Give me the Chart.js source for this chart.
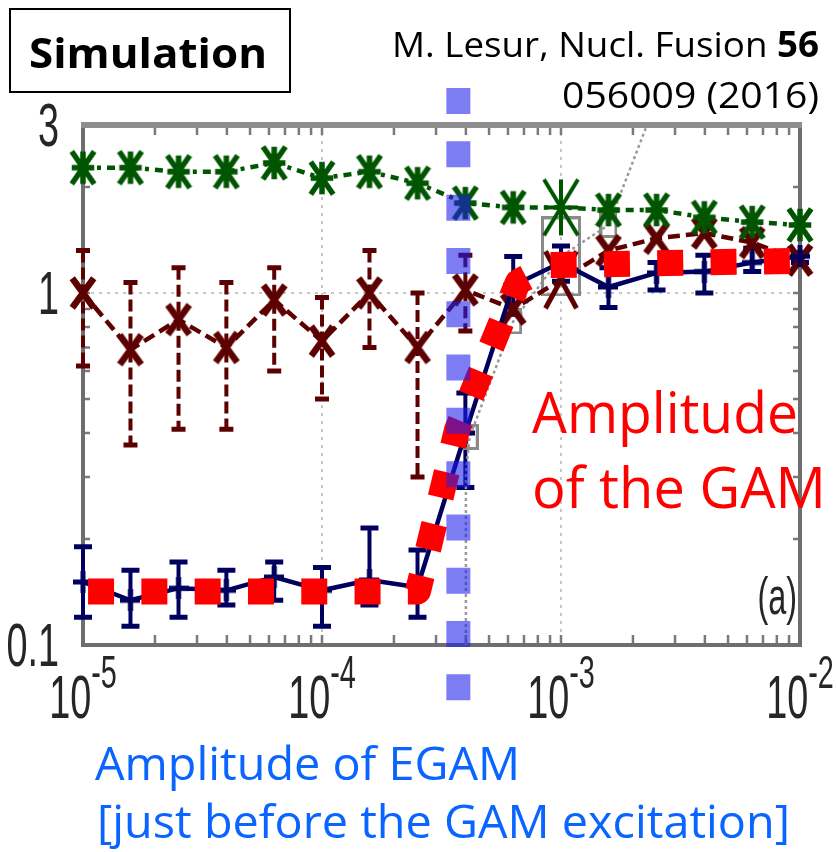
<!DOCTYPE html>
<html>
<head>
<meta charset="utf-8">
<script src="https://cdn.jsdelivr.net/npm/chart.js@4.4.1/dist/chart.umd.min.js"></script>
<style>
  html, body { margin: 0; padding: 0; background: #fff; }
  #wrap { position: relative; width: 836px; height: 852px; }
</style>
</head>
<body>
<div id="wrap"><canvas id="ampChart"></canvas></div>
<script>
// scan values shared by the three simulation series
const scanX = [1e-5, 1.58e-5, 2.51e-5, 3.98e-5, 6.31e-5, 1e-4, 1.58e-4, 2.51e-4,
               3.98e-4, 6.31e-4, 1e-3, 1.58e-3, 2.51e-3, 3.98e-3, 6.31e-3, 1e-2];

// asterisk series (dash-dot)
const starY = [2.27, 2.27, 2.21, 2.21, 2.34, 2.12, 2.21, 2.05,
               1.80, 1.75, 1.75, 1.72, 1.72, 1.64, 1.59, 1.56];

// x-marker series (dashed) with error bars
const crossY  = [1.00, 0.69, 0.84, 0.70, 0.955, 0.73, 1.00, 0.70,
                 1.02, 0.90, 1.09, 1.32, 1.43, 1.48, 1.39, 1.24];
const crossHi = [1.32, 1.07, 1.18, 1.07, 1.18, 0.97, 1.32, 1.00,
                 1.28, null, null, null, null, null, null, null];
const crossLo = [0.62, 0.37, 0.41, 0.41, 0.60, 0.50, 0.70, 0.30,
                 0.78, null, null, null, null, null, null, null];

// plus-marker series (solid) with error bars
const plusY  = [0.151, 0.134, 0.145, 0.143, 0.156, 0.143, 0.153, 0.146,
                0.40, 1.05, 1.22, 1.04, 1.14, 1.15, 1.22, 1.27];
const plusHi = [0.19, 0.163, 0.172, 0.163, 0.172, 0.166, 0.215, 0.186,
                0.52, 1.27, 1.36, 1.18, 1.22, 1.28, 1.34, 1.30];
const plusLo = [0.12, 0.113, 0.12, 0.13, 0.134, 0.113, 0.13, 0.12,
                0.28, 0.87, 1.08, 0.91, 1.02, 1.00, 1.15, 1.22];

// theory curve (dotted grey)
const theoryX = [4.0e-4, 4.0e-4, 4.15e-4, 6.31e-4, 1e-3, 1.58e-3, 2.29e-3];
const theoryY = [0.1, 0.31, 0.39, 0.83, 1.27, 1.56, 3.0];

// GAM amplitude trace
const gamX = [1.05e-5, 2.52e-4, 3.67e-4, 6.61e-4, 9.0e-4, 9.08e-3];
const gamY = [0.142, 0.142, 0.408, 1.075, 1.20, 1.233];

// EGAM amplitude marker just before GAM excitation
const egamX = [3.72e-4, 3.72e-4];
const egamY = [3.82, 0.0693];

// axis labels
const xTicks = [1e-5, 1e-4, 1e-3, 1e-2];
const xTickExp = ['-5', '-4', '-3', '-2'];
const yTicks = [0.1, 1, 3];
const yTickLabels = ['0.1', '1', '3'];

const NAVY = '#00005e', MAROON = '#5c0000', GREEN = '#005500', GREY = '#8a8a8a';

const pts = (xs, ys) => xs.map((v, i) => ({ x: v, y: ys[i] }));

// marker sprites (taller than wide)
function sprite(w, h, draw) {
  const c = document.createElement('canvas');
  c.width = w; c.height = h;
  draw(c.getContext('2d'), w, h);
  return c;
}
function lines(color, lw, segs) {
  return (g, w, h) => {
    g.strokeStyle = color; g.lineWidth = lw;
    g.beginPath();
    segs(w, h, lw / 2).forEach(([a, b, c, d]) => { g.moveTo(a, b); g.lineTo(c, d); });
    g.stroke();
  };
}
const starSegs = (w, h, p) => [[w / 2, p, w / 2, h - p], [p, h / 2, w - p, h / 2], [p, p, w - p, h - p], [w - p, p, p, h - p]];
const crossSegs = (w, h, p) => [[p, p, w - p, h - p], [w - p, p, p, h - p]];
const plusSegs = (w, h, p) => [[w / 2, 0, w / 2, h], [0, h / 2, w, h / 2]];

const starSmall = sprite(28, 38, lines(GREEN, 5.5, starSegs));
const starBig = sprite(38, 60, lines(GREEN, 4, starSegs));
const crossSmall = sprite(28, 36, lines(MAROON, 6.5, crossSegs));
const crossBig = sprite(36, 62, lines(MAROON, 5, crossSegs));
const plusMark = sprite(20, 22, lines(NAVY, 5, plusSegs));
const square = (w, h) => sprite(w, h, (g) => { g.strokeStyle = GREY; g.lineWidth = 3; g.strokeRect(1.5, 1.5, w - 3, h - 3); });
const sqSmall = square(18, 26);
const sqBig = square(40, 80);

// error bars drawn under the markers
const errorSets = [
  { lo: crossLo, hi: crossHi, color: MAROON, width: 4, dash: [12, 5], cap: 7 },
  { lo: plusLo, hi: plusHi, color: NAVY, width: 4, dash: [], cap: 9 }
];
const errorBars = {
  id: 'errorBars',
  beforeDatasetsDraw(chart) {
    const { ctx, scales: { x, y } } = chart;
    ctx.save();
    errorSets.forEach(s => {
      ctx.strokeStyle = s.color;
      scanX.forEach((v, i) => {
        if (s.lo[i] == null) return;
        const px = x.getPixelForValue(v);
        const y1 = y.getPixelForValue(s.hi[i]), y2 = y.getPixelForValue(s.lo[i]);
        ctx.setLineDash(s.dash); ctx.lineWidth = s.width;
        ctx.beginPath(); ctx.moveTo(px, y1); ctx.lineTo(px, y2); ctx.stroke();
        ctx.setLineDash([]); ctx.lineWidth = 5;
        ctx.beginPath();
        ctx.moveTo(px - s.cap, y1); ctx.lineTo(px + s.cap, y1);
        ctx.moveTo(px - s.cap, y2); ctx.lineTo(px + s.cap, y2);
        ctx.stroke();
      });
    });
    ctx.restore();
  }
};

// boxed frame with inward minor ticks on all four sides
const minorX = [];
for (let e = -5; e < -2; e++) for (let m = 1; m < 10; m++) minorX.push(m * Math.pow(10, e));
const minorY = [0.1, 0.2, 0.3, 0.4, 0.5, 0.6, 0.7, 0.8, 0.9, 1, 2, 3];
const frame = {
  id: 'frame',
  beforeDatasetsDraw(chart) {
    const { ctx, chartArea: a, scales: { x, y } } = chart;
    ctx.save();
    ctx.strokeStyle = '#7a7a7a'; ctx.lineWidth = 2.5;
    ctx.beginPath();
    minorX.forEach(v => {
      const px = x.getPixelForValue(v);
      ctx.moveTo(px, a.bottom); ctx.lineTo(px, a.bottom - 10);
      ctx.moveTo(px, a.top); ctx.lineTo(px, a.top + 10);
    });
    minorY.forEach(v => {
      const py = y.getPixelForValue(v);
      ctx.moveTo(a.left, py); ctx.lineTo(a.left + 7, py);
      ctx.moveTo(a.right, py); ctx.lineTo(a.right - 7, py);
    });
    ctx.stroke();
    ctx.strokeStyle = '#6e6e6e'; ctx.lineWidth = 4;
    ctx.strokeRect(a.left, a.top, a.right - a.left, a.bottom - a.top);
    ctx.strokeStyle = '#8e8e8e'; ctx.lineWidth = 6;
    ctx.beginPath(); ctx.moveTo(a.left - 2, a.top); ctx.lineTo(a.right + 2, a.top); ctx.stroke();
    ctx.restore();
  }
};

// tick labels in a tall, slightly condensed face, plus the notes around the plot
const TALL_FONT = 'px "Liberation Sans", Arial, sans-serif';
const SX = 0.9, SY = 1.45;
function tall(ctx, txt, px, base, size, align) {
  ctx.save();
  ctx.font = size + TALL_FONT;
  ctx.textAlign = align; ctx.textBaseline = 'alphabetic';
  ctx.translate(px, base); ctx.scale(SX, SY);
  ctx.fillText(txt, 0, 0);
  ctx.restore();
}
function tallWidth(ctx, txt, size) {
  ctx.font = size + TALL_FONT;
  return ctx.measureText(txt).width * SX;
}
function note(ctx, parts, x, base, capH, width, color, align) {
  const size = capH / 0.714;
  const fonts = parts.map(([, wt]) => wt + ' ' + size + 'px "Open Sans", "Noto Sans", sans-serif');
  const widths = parts.map(([t], i) => { ctx.font = fonts[i]; return ctx.measureText(t).width; });
  const total = widths.reduce((s, w) => s + w, 0);
  ctx.save();
  ctx.fillStyle = color; ctx.textAlign = 'left'; ctx.textBaseline = 'alphabetic';
  ctx.translate(align === 'right' ? x - width : x, base);
  ctx.scale(width / total, 1);
  let cx = 0;
  parts.forEach(([t], i) => { ctx.font = fonts[i]; ctx.fillText(t, cx, 0); cx += widths[i]; });
  ctx.restore();
}
const labels = {
  id: 'labels',
  afterDraw(chart) {
    const { ctx, chartArea: a, scales: { x, y } } = chart;
    ctx.save();
    ctx.fillStyle = '#262626';
    yTicks.forEach((v, i) => tall(ctx, yTickLabels[i], a.left - 24, y.getPixelForValue(v) + 21, 42, 'right'));
    xTicks.forEach((v, i) => {
      const px = x.getPixelForValue(v);
      const wb = tallWidth(ctx, '10', 42);
      const ws = tallWidth(ctx, xTickExp[i], 32);
      const left = px - (wb + ws) / 2;
      tall(ctx, '10', left, a.bottom + 73, 42, 'left');
      tall(ctx, xTickExp[i], left + wb, a.bottom + 43, 32, 'left');
    });
    tall(ctx, '(a)', a.right - 3, a.bottom - 31, 36, 'right');

    ctx.strokeStyle = '#000'; ctx.lineWidth = 2;
    ctx.strokeRect(10, 9, 280, 83);
    note(ctx, [['Simulation', 'bold']], 29, 68, 29, 238, '#000', 'left');
    note(ctx, [['M. Lesur, Nucl. Fusion ', 'normal'], ['56', 'bold']], 819, 57, 25, 427, '#000', 'right');
    note(ctx, [['056009 (2016)', 'normal']], 819, 108, 26, 257, '#000', 'right');
    note(ctx, [['Amplitude', 'normal']], 532, 433, 41, 266, '#ff0000', 'left');
    note(ctx, [['of the GAM', 'normal']], 532, 508, 40, 294, '#ff0000', 'left');
    note(ctx, [['Amplitude of EGAM', 'normal']], 95, 780, 32, 425, '#0a64ff', 'left');
    note(ctx, [['[just before the GAM excitation]', 'normal']], 97, 838, 32, 693, '#0a64ff', 'left');
    ctx.restore();
  }
};

new Chart(document.getElementById('ampChart'), {
  type: 'line',
  data: {
    datasets: [
      {
        label: 'EGAM amplitude', data: pts(egamX, egamY),
        borderColor: 'rgba(30,30,235,0.58)', borderWidth: 24, borderDash: [26, 27.3],
        pointRadius: 0, clip: false, order: 0
      },
      {
        label: 'GAM amplitude', data: pts(gamX, gamY),
        borderColor: '#ff0000', borderWidth: 26, borderDash: [26, 27.3], borderJoinStyle: 'round',
        pointRadius: 0, clip: false, order: 1
      },
      {
        label: 'plus', data: pts(scanX, plusY),
        borderColor: NAVY, borderWidth: 4.5, pointStyle: plusMark, pointRadius: 8,
        clip: false, order: 2
      },
      {
        label: 'star', data: pts(scanX, starY),
        borderColor: GREEN, borderWidth: 4.5, borderDash: [8, 6, 4, 6],
        pointStyle: c => c.dataIndex === 10 ? starBig : starSmall, pointRadius: 8,
        clip: false, order: 3
      },
      {
        label: 'cross', data: pts(scanX, crossY),
        borderColor: MAROON, borderWidth: 4.5, borderDash: [12, 6],
        pointStyle: c => c.dataIndex === 10 ? crossBig : crossSmall, pointRadius: 8,
        clip: false, order: 4
      },
      {
        label: 'theory', data: pts(theoryX, theoryY),
        borderColor: '#9a9a9a', borderWidth: 2.5, borderDash: [3, 3],
        pointStyle: c => c.dataIndex === 4 ? sqBig : sqSmall,
        pointRadius: c => (c.dataIndex >= 2 && c.dataIndex <= 5) ? 8 : 0,
        clip: false, order: 5
      }
    ]
  },
  options: {
    responsive: true,
    maintainAspectRatio: false,
    animation: false,
    events: [],
    layout: { padding: { left: 0, right: 36, top: 125, bottom: 0 } },
    plugins: { legend: { display: false }, tooltip: { enabled: false } },
    scales: {
      x: {
        type: 'logarithmic', min: 1e-5, max: 1e-2,
        afterBuildTicks: s => { s.ticks = xTicks.map(v => ({ value: v })); },
        afterFit: s => { s.height = 207; },
        ticks: { display: false },
        grid: { color: '#c6c6c6', lineWidth: 2, drawTicks: false },
        border: { display: false, dash: [3, 5] }
      },
      y: {
        type: 'logarithmic', min: 0.1, max: 3,
        afterBuildTicks: s => { s.ticks = yTicks.map(v => ({ value: v })); },
        afterFit: s => { s.width = 83; },
        ticks: { display: false },
        grid: { color: '#c6c6c6', lineWidth: 2, drawTicks: false },
        border: { display: false, dash: [3, 5] }
      }
    }
  },
  plugins: [frame, errorBars, labels]
});
</script>
</body>
</html>
